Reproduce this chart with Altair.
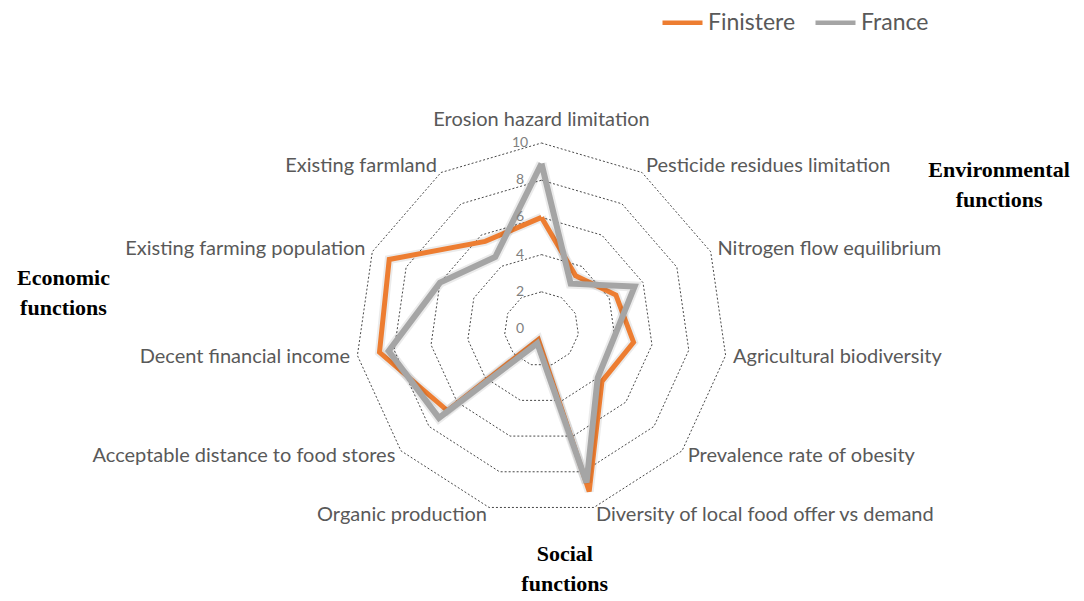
import altair as alt
import numpy as np
import pandas as pd

categories = [
    "Erosion hazard limitation",
    "Pesticide residues limitation",
    "Nitrogen flow equilibrium",
    "Agricultural biodiversity",
    "Prevalence rate of obesity",
    "Diversity of local food offer vs demand",
    "Organic production",
    "Acceptable distance to food stores",
    "Decent financial income",
    "Existing farming population",
    "Existing farmland",
]
finistere = [6.0, 3.4, 4.4, 5.0, 4.3, 9.1, 0.6, 6.7, 8.8, 9.0, 5.6]
france = [8.9, 2.9, 5.5, 3.9, 4.0, 8.6, 0.8, 7.3, 8.3, 6.0, 4.6]
series_names = ["Finistere", "France"]
series_colors = ["#ED7D31", "#A5A5A5"]
ring_values = [2, 4, 6, 8, 10]
tick_values = [0, 2, 4, 6, 8, 10]
tick_labels = ["0", "2", "4", "6", "8", "10"]
group_titles = ["Environmental\nfunctions", "Economic\nfunctions", "Social\nfunctions"]
group_x = [24.6, -25.7, 1.25]
group_y = [8.55, 2.75, -12.1]

n = len(categories)
ang = 2 * np.pi * np.arange(n) / n

# polygons
rows = []
for name, vals in zip(series_names, [finistere, france]):
    for k in range(n + 1):
        i = k % n
        rows.append({"series": name, "k": k, "x": vals[i] * np.sin(ang[i]), "y": vals[i] * np.cos(ang[i])})
poly = pd.DataFrame(rows)

rrows = []
for r in ring_values:
    for k in range(n + 1):
        i = k % n
        rrows.append({"ring": r, "k": k, "x": r * np.sin(ang[i]), "y": r * np.cos(ang[i])})
rings = pd.DataFrame(rrows)

LR = 10.4
lab = pd.DataFrame({
    "label": categories,
    "x": LR * np.sin(ang),
    "y": LR * np.cos(ang),
    "side": ["center" if abs(np.sin(a)) < 0.1 else ("left" if np.sin(a) > 0 else "right") for a in ang],
})
ticks = pd.DataFrame({"label": tick_labels, "y": tick_values, "x": [-1.15] * len(tick_values)})
groups = pd.DataFrame({"label": group_titles, "x": group_x, "y": group_y})

W, H = 1068, 593
PX = 18.6
cx, cy = 533.5, 321.0
xs = alt.Scale(domain=[-cx / PX, (W - cx) / PX], nice=False, zero=False)
ys = alt.Scale(domain=[-(H - cy) / PX, cy / PX], nice=False, zero=False)
X = alt.X("x:Q", scale=xs, axis=None)
Y = alt.Y("y:Q", scale=ys, axis=None)

ring_layer = alt.Chart(rings).mark_line(strokeDash=[2, 2], strokeWidth=0.9, color="#333333").encode(
    x=X, y=Y, detail="ring:N", order="k:Q")

color = alt.Color("series:N", scale=alt.Scale(domain=series_names, range=series_colors),
                  legend=alt.Legend(title=None, orient="none", direction="horizontal",
                                    legendX=652, legendY=-8, symbolType="stroke",
                                    symbolSize=1600, symbolStrokeWidth=4.5,
                                    labelFontSize=23, labelFont="Lato", labelColor="#595959",
                                    columnPadding=10, labelOffset=3, padding=0))

def series_layer(name, width):
    base = alt.Chart(poly).transform_filter(alt.datum.series == name)
    shadow = base.mark_line(strokeWidth=width + 4, color="#000000", opacity=0.08, strokeJoin="miter").encode(
        x=X, y=Y, order="k:Q")
    line = base.mark_line(strokeWidth=width, strokeJoin="miter").encode(x=X, y=Y, order="k:Q", color=color)
    return shadow + line

fin_layer = series_layer("Finistere", 5)
fra_layer = series_layer("France", 6)

txt = dict(font="Lato", fontSize=20, color="#595959")
lab_left = alt.Chart(lab).transform_filter(alt.datum.side == "left").mark_text(align="left", baseline="middle", **txt).encode(x=X, y=Y, text="label:N")
lab_right = alt.Chart(lab).transform_filter(alt.datum.side == "right").mark_text(align="right", baseline="middle", **txt).encode(x=X, y=Y, text="label:N")
lab_top = alt.Chart(lab).transform_filter(alt.datum.side == "center").mark_text(align="center", baseline="bottom", dy=-6, **txt).encode(x=X, y=Y, text="label:N")

tick_layer = alt.Chart(ticks).mark_text(align="center", baseline="middle", font="Lato", fontSize=14, color="#7f7f7f").encode(
    x=X, y=Y, text="label:N")

group_layer = alt.Chart(groups).mark_text(align="center", baseline="middle", font="Liberation Serif", fontWeight="bold",
                                          fontSize=22, color="#000000", lineBreak="\n", lineHeight=30).encode(
    x=X, y=Y, text="label:N")

chart = alt.layer(ring_layer, fin_layer, fra_layer, tick_layer, lab_left, lab_right, lab_top, group_layer).properties(
    width=W, height=H, padding=0, background="white", autosize=alt.AutoSizeParams(type="none")
).configure_view(stroke=None)

chart.save("out.html", embed_options={"renderer": "svg", "actions": False})
